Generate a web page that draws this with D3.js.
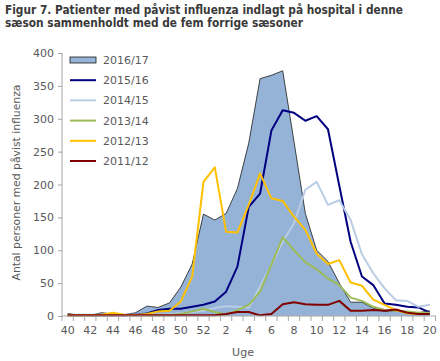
<!DOCTYPE html>
<html>
<head>
<meta charset="utf-8">
<script src="https://cdn.jsdelivr.net/npm/d3@7"></script>
<style>
  body { margin: 0; background: #fff; }
  svg { display: block; font-family: "DejaVu Sans", Verdana, sans-serif; }
</style>
</head>
<body>
<div id="chart"></div>
<script>
// uger i sæsonen (uge 40 til uge 20)
const weeks = [40, 41, 42, 43, 44, 45, 46, 47, 48, 49, 50, 51, 52,
  1, 2, 3, 4, 5, 6, 7, 8, 9, 10, 11, 12, 13, 14, 15, 16, 17, 18, 19, 20]
const weekLabels = [40, 42, 44, 46, 48, 50, 52, 2, 4, 6, 8, 10, 12, 14, 16, 18, 20]
const yTicks = [0, 50, 100, 150, 200, 250, 300, 350, 400]

const s1617 = [4, 1, 1, 5, 3, 2, 5, 15, 13, 20, 44, 79, 155, 146, 156, 194, 263, 361, 366, 373, 265, 156, 100, 83, 50, 21, 21, 12, 7, 8, 5, 5, 8]
const s1516 = [1, 1, 1, 1, 1, 1, 2, 4, 9, 11, 11, 14, 17, 22, 37, 75, 166, 186, 282, 313, 309, 297, 304, 284, 198, 113, 60, 47, 19, 17, 14, 13, 5]
const s1415 = [2, 2, 2, 2, 2, 2, 2, 2, 2, 3, 4, 6, 8, 12, 15, 14, 13, 45, 78, 113, 141, 192, 204, 169, 176, 146, 94, 65, 42, 24, 23, 14, 17]
const s1314 = [1, 1, 1, 1, 1, 1, 1, 1, 1, 1, 3, 7, 11, 6, 2, 9, 17, 37, 78, 120, 100, 82, 71, 57, 47, 28, 23, 14, 9, 8, 7, 5, 5]
const s1213 = [1, 1, 1, 2, 5, 2, 1, 3, 7, 8, 22, 60, 204, 226, 128, 127, 169, 217, 179, 175, 151, 131, 95, 79, 85, 51, 46, 25, 17, 9, 4, 3, 3]
const s1112 = [1, 1, 1, 1, 1, 1, 1, 1, 1, 1, 1, 1, 1, 1, 3, 6, 6, 1, 3, 18, 21, 18, 17, 17, 23, 8, 8, 9, 8, 10, 5, 3, 3]

const seasons = ["2016/17", "2015/16", "2014/15", "2013/14", "2012/13", "2011/12"]
const colors = ["#95b3d7", "#000080", "#b9cde5", "#9bbb59", "#ffc000", "#800000"]

const width = 440
const height = 361

const svg = d3.select("#chart")
  .append("svg")
  .attr("width", width)
  .attr("height", height)

// titel
const title = svg.append("g")
  .attr("font-weight", "bold")
  .attr("font-size", "12px")
  .attr("fill", "#3a3a3a")
  .attr("font-family", "'DejaVu Sans Condensed', 'DejaVu Sans', sans-serif")
title.append("text").attr("x", 5).attr("y", 13.5)
  .attr("textLength", 398).attr("lengthAdjust", "spacingAndGlyphs")
  .text("Figur 7. Patienter med påvist influenza indlagt på hospital i denne")
title.append("text").attr("x", 5).attr("y", 26.5)
  .attr("textLength", 298).attr("lengthAdjust", "spacingAndGlyphs")
  .text("sæson sammenholdt med de fem forrige sæsoner")

const x = d3.scaleBand()
  .domain(weeks)
  .range([62, 435.5])
  .padding(0)

const y = d3.scaleLinear()
  .domain([0, 400])
  .range([316, 53])

const cx = w => x(w) + x.bandwidth() / 2

// area for 2016/17
const area = d3.area()
  .x((d, i) => cx(weeks[i]))
  .y0(y(0))
  .y1(d => y(d))

svg.append("path")
  .datum(s1617)
  .attr("d", area)
  .attr("fill", colors[0])
  .attr("stroke", "none")

const topLine = d3.line()
  .x((d, i) => cx(weeks[i]))
  .y(d => y(d))

svg.append("path")
  .datum(s1617)
  .attr("d", topLine)
  .attr("fill", "none")
  .attr("stroke", "#1a1a1a")
  .attr("stroke-width", 0.8)

// linjer for de tidligere sæsoner
const lines = [s1516, s1415, s1314, s1213, s1112]
lines.forEach((series, k) => {
  svg.append("path")
    .datum(series)
    .attr("d", topLine)
    .attr("fill", "none")
    .attr("stroke", colors[k + 1])
    .attr("stroke-width", 2)
    .attr("stroke-linejoin", "round")
})

// akser
const axisColor = "#a6a6a6"
const textColor = "#595959"

const xAxis = svg.append("g")
  .attr("transform", `translate(0, ${y(0)})`)
  .call(d3.axisBottom(x).tickSize(0).tickFormat(d => weekLabels.includes(d) ? d : ""))
xAxis.select(".domain").remove()
xAxis.append("line")
  .attr("x1", 62).attr("x2", 435.5)
  .attr("stroke", axisColor)
// ticks mellem ugerne
xAxis.selectAll(".sep")
  .data(weeks.concat(["end"]))
  .enter().append("line")
  .attr("x1", (d, i) => 62 + i * x.bandwidth())
  .attr("x2", (d, i) => 62 + i * x.bandwidth())
  .attr("y1", 0).attr("y2", 5)
  .attr("stroke", axisColor)
xAxis.selectAll(".tick text")
  .attr("y", 10)
  .attr("font-size", "11px")
  .attr("font-family", "'DejaVu Sans', sans-serif")
  .attr("fill", textColor)

const yAxis = svg.append("g")
  .attr("transform", "translate(62, 0)")
  .call(d3.axisLeft(y).tickValues(yTicks).tickSize(4).tickPadding(4))
yAxis.select(".domain").attr("stroke", axisColor).attr("d", `M0,${y(400)}V${y(0)}`)
yAxis.selectAll(".tick line").attr("stroke", axisColor)
yAxis.selectAll(".tick text")
  .attr("font-size", "11px")
  .attr("font-family", "'DejaVu Sans', sans-serif")
  .attr("fill", textColor)

svg.append("text")
  .attr("transform", "translate(20, 182.5) rotate(-90)")
  .attr("text-anchor", "middle")
  .attr("font-size", "11px")
  .attr("textLength", 196)
  .attr("lengthAdjust", "spacingAndGlyphs")
  .attr("fill", textColor)
  .text("Antal personer med påvist influenza")

svg.append("text")
  .attr("x", 243)
  .attr("y", 356)
  .attr("text-anchor", "middle")
  .attr("font-size", "11px")
  .attr("fill", textColor)
  .text("Uge")

// legend
const legend = svg.append("g")
  .attr("transform", "translate(70, 60)")

seasons.forEach((name, i) => {
  const row = legend.append("g")
    .attr("transform", `translate(0, ${i * 20.2})`)
  if (i === 0) {
    row.append("rect")
      .attr("x", 0).attr("y", -3)
      .attr("width", 26).attr("height", 6)
      .attr("fill", colors[0])
      .attr("stroke", "#1a1a1a")
      .attr("stroke-width", 0.8)
  } else {
    row.append("line")
      .attr("x1", 0).attr("x2", 26)
      .attr("stroke", colors[i])
      .attr("stroke-width", 2)
  }
  row.append("text")
    .attr("x", 33)
    .attr("y", 4)
    .attr("font-size", "11px")
    .attr("fill", textColor)
    .text(name)
})
</script>
</body>
</html>
